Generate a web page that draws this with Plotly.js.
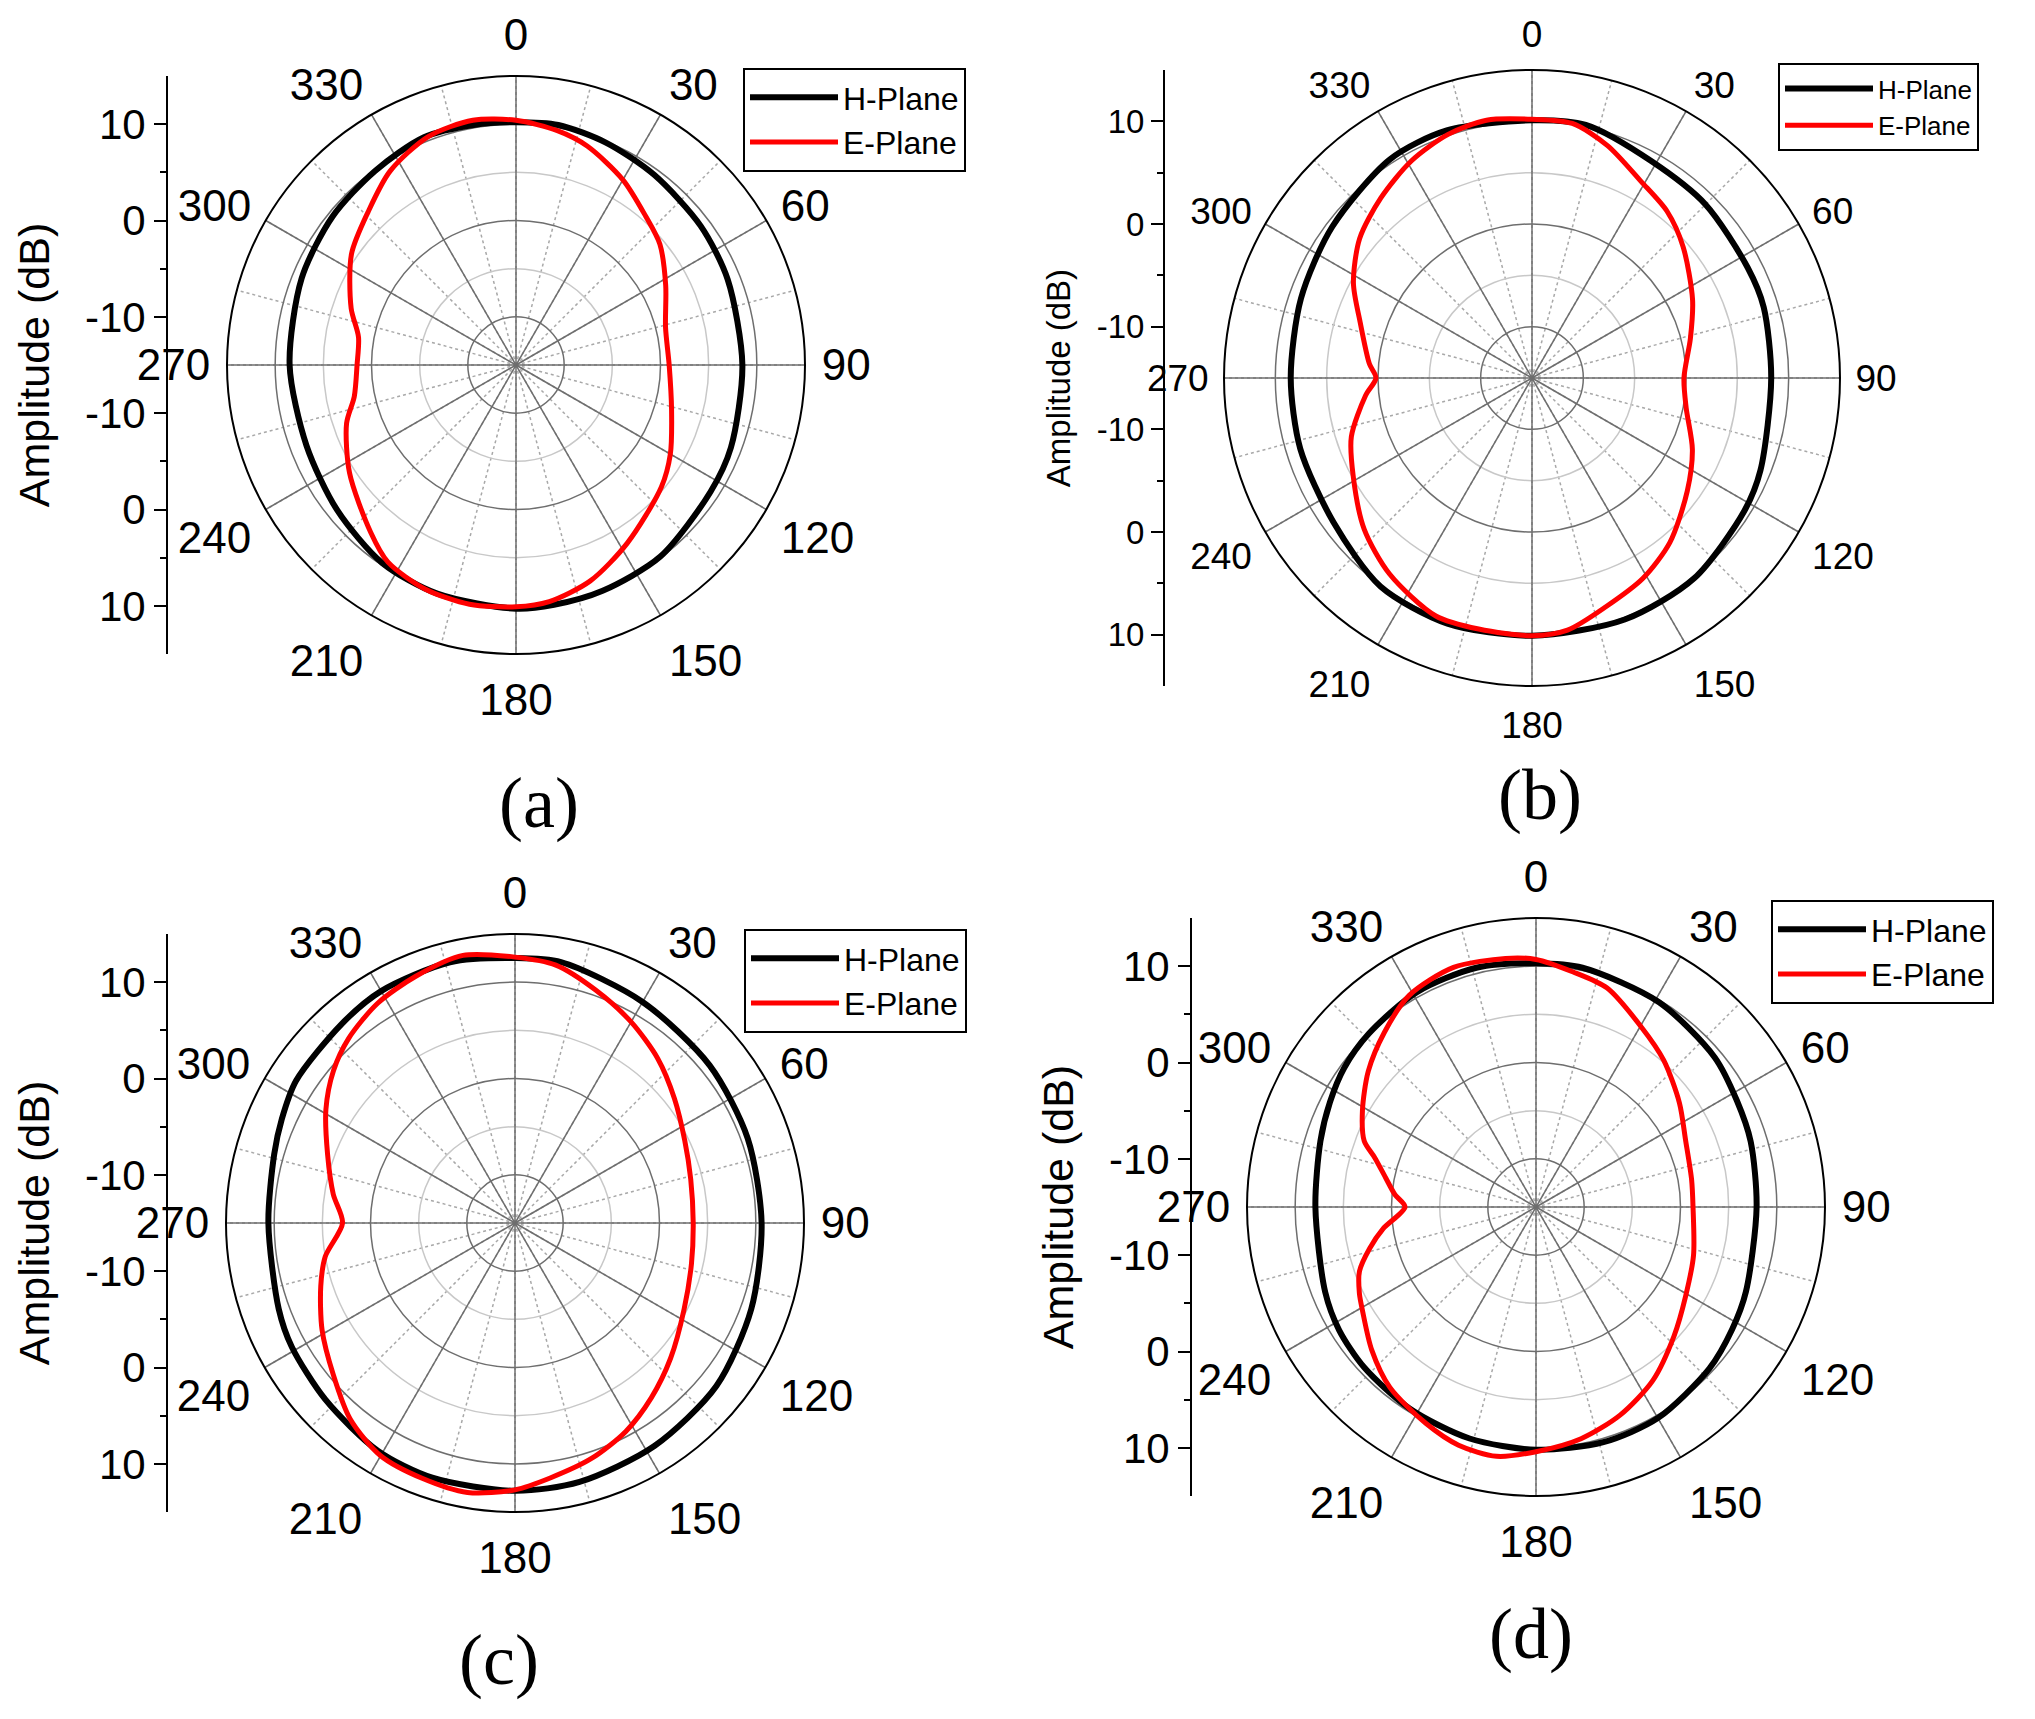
<!DOCTYPE html>
<html><head><meta charset="utf-8">
<script src="https://cdn.plot.ly/plotly-3.0.1.min.js"></script>
<style>html,body{margin:0;padding:0;background:#fff}#chart{width:2035px;height:1719px}</style>
</head><body><div id="chart"></div>
<script>
const W = 2035, H = 1719;

// ---------------- data (dB values) ----------------
const aHTheta = [0,10,22,36,53,68,90,111,123,143,159,171,180,199,214,231,249,270,292,309,324,338,350];
const aHR     = [10.2,10.3,9.9,9.4,9.0,8.7,8.5,8.9,9.1,9.9,10.1,10.2,10.3,10.1,9.8,8.9,8.3,8.5,9.0,9.5,9.9,10.5,10.3];
const aETheta = [0,10,18,30,41,50,62,76,90,106,120,130,148,161,172,180,191,202,213,221,237,251,259,270,280,289,304,316,327,339,350];
const aER     = [10.4,9.7,8.9,7.2,5.5,4.5,2.6,1.0,0.9,1.8,3.5,4.7,6.8,8.7,9.8,10.1,10.3,10.1,9.4,8.0,5.6,3.6,2.1,1.5,1.6,3.1,5.6,7.1,9.0,10.4,10.8];

const bHTheta = [0,12,29,45,63,73,90,112,122,141,159,180,199,216,234,253,270,289,307,327,341];
const bHR     = [10.1,10.2,9.1,8.9,8.6,8.6,8.3,9.0,9.4,10.1,10.2,10.1,10.3,10.1,8.9,8.6,8.5,8.8,9.4,10.4,10.5];
const bETheta = [0,9,18,29,39,49,64,76,90,101,114,126,140,151,162,172,180,192,202,216,228,241,252,264,270,275,288,298,309,320,331,341,350];
const bER     = [10.2,10.1,8.8,6.9,5.9,4.5,2.4,0.9,-0.2,0.3,2.1,3.7,5.9,7.3,8.4,9.8,10.1,10.0,10.0,8.6,7.0,4.9,3.5,1.3,0.2,0.9,2.6,4.7,6.6,7.9,9.2,10.1,10.5];

const cHTheta = [0,10,30,51,70,90,110,129,148,166,180,198,211,227,241,250,270,286,294,303,319,330,346];
const cHR     = [12.5,12.5,11.5,11.0,10.7,10.6,11.1,11.9,12.3,12.7,12.8,12.8,12.6,11.9,11.5,11.1,10.6,11.0,11.5,12.1,12.4,12.8,12.9];
const cETheta = [0,9,19,30,41,52,64,76,90,103,117,131,142,152,162,172,180,190,200,210,220,230,241,252,260,270,279,290,301,310,318,328,338,349];
const cER     = [12.6,12.1,10.6,9.1,7.6,6.0,4.6,3.8,3.5,3.8,4.7,6.4,8.0,9.5,10.7,11.7,12.7,13.4,13.2,12.9,11.6,9.6,7.9,6.2,5.0,2.9,4.1,5.7,7.9,9.6,10.8,11.9,12.6,13.3];

const dHTheta = [0,11,31,50,62,73,90,112,122,133,150,164,180,196,212,227,238,248,270,287,297,306,316,331,346];
const dHR     = [10.3,10.3,9.8,9.2,8.6,8.3,7.9,8.5,9.0,9.6,10.3,10.4,10.2,10.0,9.7,9.4,9.1,8.6,7.9,8.4,9.0,9.6,10.0,10.5,10.6];
const dETheta = [0,9,18,30,41,54,66,80,90,107,121,133,146,158,169,180,189,198,207,219,229,239,244,250,256,262,270,275,281,287,291,299,309,319,329,341,353];
const dER     = [10.7,9.7,8.9,6.7,5.2,3.4,2.0,1.4,1.3,2.1,3.1,4.6,6.7,8.3,9.5,10.4,11.2,11.0,10.2,9.1,7.6,6.0,5.4,4.5,2.8,1.0,-1.4,-0.3,0.9,2.5,4.1,5.6,7.4,9.0,10.6,11.3,11.0];

const seriesNames   = ['H-Plane', 'E-Plane'];
const panelLabels   = ['(a)', '(b)', '(c)', '(d)'];
const angleTicks    = [0,30,60,90,120,150,180,210,240,270,300,330];
const angleTickText = ['0','30','60','90','120','150','180','210','240','270','300','330'];
const radialRange   = [-15, 15];
const radialMajor   = [-10, 0, 10];
const radialMinor   = [-5, 5];
const ampTicks      = [-10, 0, 10];        // labels of the side amplitude axis
const ampTickText   = ['-10', '0', '10'];
const yTitle        = 'Amplitude (dB)';

const panelData = [
  {h:[aHTheta,aHR], e:[aETheta,aER]},
  {h:[bHTheta,bHR], e:[bETheta,bER]},
  {h:[cHTheta,cHR], e:[cETheta,cER]},
  {h:[dHTheta,dHR], e:[dETheta,dER]},
];

// ---------------- layout geometry (pixels) ----------------
const geom = [
  {cx:516,  cy:365,  r:289, axisX:168,  tick:42, ang:44, title:43, stand:22, legX:743,  legY:68,  legF:32, labX:539,  labY:803},
  {cx:1532, cy:378,  r:308, axisX:1165, tick:33, ang:37, title:33, stand:16, legX:1778, legY:63,  legF:26, labX:1540, labY:795},
  {cx:515,  cy:1223, r:289, axisX:168,  tick:42, ang:44, title:43, stand:22, legX:744,  legY:929, legF:32, labX:499,  labY:1660},
  {cx:1536, cy:1207, r:289, axisX:1192, tick:42, ang:44, title:43, stand:22, legX:1771, legY:900, legF:32, labX:1531, labY:1634},
];

const FONT = 'Arial, "Liberation Sans", sans-serif';
const SERIF = '"Times New Roman", "Liberation Serif", serif';
const colors = ['#000000', '#ff0000'];
const widths = [6, 5];

const fx = px => px / W;
const fy = py => 1 - py / H;
const close = arr => arr.concat([arr[0]]);

const traces = [];
const layout = {
  width: W, height: H,
  margin: {l:0, r:0, t:0, b:0},
  paper_bgcolor: '#ffffff',
  plot_bgcolor: 'rgba(0,0,0,0)',
  showlegend: true,
  annotations: [],
};

geom.forEach((g, i) => {
  const n = i + 1;
  const sfx = n === 1 ? '' : String(n);
  const base = 'polar' + (i === 0 ? '' : (2*i + 1));
  const top  = 'polar' + (2*i + 2);
  const dom = {
    x: [fx(g.cx - g.r), fx(g.cx + g.r)],
    y: [fy(g.cy + g.r), fy(g.cy - g.r)],
  };
  // minor grid polar (underneath)
  layout[base] = {
    domain: dom,
    bgcolor: '#ffffff',
    radialaxis: {range: radialRange, tickmode:'array', tickvals: radialMinor, showticklabels:false,
                 ticks:'', showline:false, gridcolor:'#c8c8c8', gridwidth:1.5},
    angularaxis: {rotation:90, direction:'clockwise', tickmode:'linear', tick0:0, dtick:15,
                  showticklabels:false, ticks:'', showline:false,
                  gridcolor:'#a8a8a8', gridwidth:1.5, griddash:'dot'},
  };
  // major grid polar (on top, holds the data)
  layout[top] = {
    domain: dom,
    bgcolor: 'rgba(0,0,0,0)',
    radialaxis: {range: radialRange, tickmode:'array', tickvals: radialMajor, showticklabels:false,
                 ticks:'', showline:false, gridcolor:'#6e6e6e', gridwidth:1.5},
    angularaxis: {rotation:90, direction:'clockwise', tickmode:'array', tickvals: angleTicks,
                  ticktext: angleTickText, ticks:'outside', ticklen:7, tickcolor:'rgba(0,0,0,0)',
                  showline:true, linecolor:'#000000', linewidth:2,
                  gridcolor:'#6e6e6e', gridwidth:1.5,
                  tickfont:{family:FONT, size:g.ang, color:'#000000'}},
  };

  // the minor-grid subplot needs a trace to be drawn: one transparent point at the centre
  traces.push({type:'scatterpolar', mode:'markers', subplot: base,
               r:[radialRange[0]], theta:[angleTicks[0]], marker:{opacity:0, size:1},
               showlegend:false, hoverinfo:'skip'});

  const legName = 'legend' + sfx;
  layout[legName] = {
    x: fx(g.legX), y: fy(g.legY), xanchor:'left', yanchor:'top',
    bgcolor:'#ffffff', bordercolor:'#000000', borderwidth:2,
    font:{family:FONT, size:g.legF, color:'#000000'},
    tracegroupgap:0, itemwidth:88,
  };

  const pd = panelData[i];
  [pd.h, pd.e].forEach((s, k) => {
    traces.push({
      type:'scatterpolar', mode:'lines', subplot: top,
      theta: close(s[0]), r: close(s[1]),
      name: seriesNames[k], legend: legName,
      line:{color: colors[k], width: widths[k], shape:'spline', smoothing:0.8},
      hoverinfo:'skip',
    });
  });

  // side amplitude axis (linear, mirrored about the polar centre)
  const span = radialRange[1] - radialRange[0];
  const up = ampTicks.map(v => v - radialRange[0]);
  const dn = ampTicks.map(v => -(v - radialRange[0]));
  const minorUp = radialMinor.map(v => v - radialRange[0]);
  const minorDn = radialMinor.map(v => -(v - radialRange[0]));
  layout['xaxis' + sfx] = {domain:[fx(g.axisX), fx(g.axisX + 4)], range:[0,1], visible:false, anchor:'y' + sfx};
  layout['yaxis' + sfx] = {
    domain: dom.y, range:[-span, span], anchor:'x' + sfx,
    tickmode:'array', tickvals: dn.concat(up), ticktext: ampTickText.concat(ampTickText),
    showline:true, linecolor:'#000000', linewidth:2, ticks:'outside', ticklen:12, tickwidth:2, tickcolor:'#000000',
    minor:{tickmode:'array', tickvals: minorDn.concat(minorUp), ticks:'outside', ticklen:6, tickwidth:2, tickcolor:'#000000'},
    showgrid:false, zeroline:false,
    tickfont:{family:FONT, size:g.tick, color:'#000000'},
    title:{text: yTitle, standoff: g.stand, font:{family:FONT, size:g.title, color:'#000000'}},
  };
  traces.push({type:'scatter', x:[], y:[], xaxis:'x' + sfx, yaxis:'y' + sfx,
               showlegend:false, hoverinfo:'skip'});

  layout.annotations.push({
    text: panelLabels[i], xref:'paper', yref:'paper', x: fx(g.labX), y: fy(g.labY),
    xanchor:'center', yanchor:'middle', showarrow:false,
    font:{family:SERIF, size:72, color:'#000000'},
  });
});

Plotly.newPlot('chart', traces, layout, {displayModeBar:false, staticPlot:true});
</script>
</body></html>
